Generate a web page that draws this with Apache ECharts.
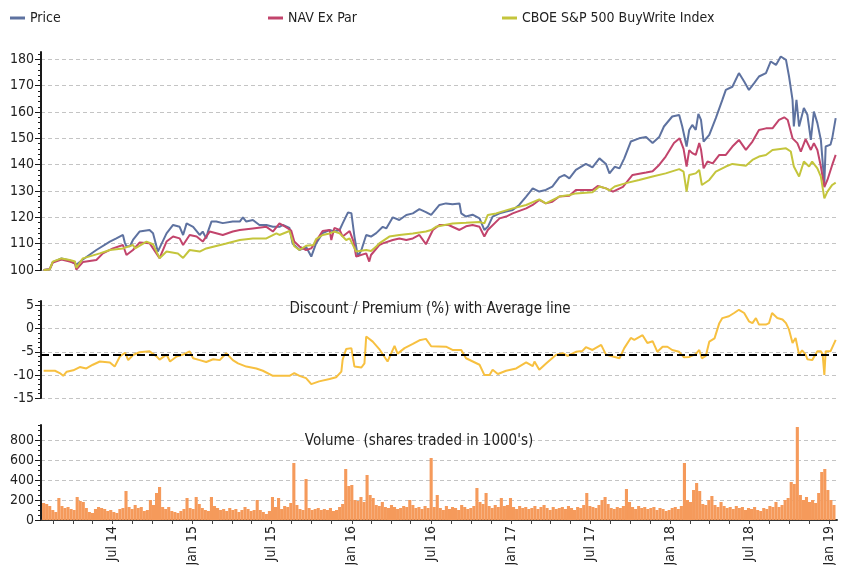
<!DOCTYPE html>
<html>
<head>
<meta charset="utf-8">
<title>Price, NAV and BuyWrite Index</title>
<script src="https://cdn.jsdelivr.net/npm/echarts@6/dist/echarts.min.js"></script>
<style>
  html, body { margin: 0; padding: 0; background: #ffffff; }
  #chart { width: 848px; height: 565px; }
</style>
</head>
<body>
<div id="chart"></div>
<script>
// ---------------------------------------------------------------------------
// Data
// ---------------------------------------------------------------------------

// Growth of 100, fund market price
const priceSeries = [
  ['2014-01-24',100.0],['2014-02-07',100.3],['2014-02-14',103.0],['2014-03-06',104.4],['2014-03-25',103.6],
  ['2014-04-09',102.0],['2014-04-24',104.0],['2014-05-25',107.6],['2014-06-25',110.8],['2014-07-10',112.0],
  ['2014-07-25',113.3],['2014-07-29',110.5],['2014-08-02',109.0],['2014-08-10',109.0],['2014-08-17',111.4],
  ['2014-09-01',114.6],['2014-09-24',115.2],['2014-10-02',114.0],['2014-10-13',107.0],['2014-10-17',106.3],
  ['2014-11-02',113.9],['2014-11-17',117.1],['2014-12-02',116.4],['2014-12-10',113.3],['2014-12-18',117.7],
  ['2015-01-02',116.4],['2015-01-17',113.3],['2015-01-24',114.6],['2015-02-01',112.0],['2015-02-05',114.6],
  ['2015-02-13',118.4],['2015-02-24',118.4],['2015-03-11',117.8],['2015-04-03',118.4],['2015-04-19',118.4],
  ['2015-04-26',120.0],['2015-05-04',118.4],['2015-05-19',119.0],['2015-06-03',117.1],['2015-06-19',117.1],
  ['2015-07-04',116.4],['2015-07-19',116.4],['2015-07-27',117.1],['2015-08-11',116.0],['2015-08-18',110.1],
  ['2015-09-03',107.6],['2015-09-18',108.8],['2015-09-30',105.1],['2015-10-11',110.1],['2015-10-26',114.0],
  ['2015-11-11',115.2],['2015-11-22',114.6],['2015-12-04',115.2],['2015-12-11',117.7],['2015-12-23',121.8],
  ['2015-12-31',121.6],['2016-01-07',112.7],['2016-01-15',105.1],['2016-01-23',107.6],['2016-02-03',113.3],
  ['2016-02-14',112.7],['2016-02-26',114.0],['2016-03-12',116.4],['2016-03-20',115.8],['2016-04-04',120.0],
  ['2016-04-19',119.0],['2016-05-05',120.9],['2016-05-20',121.5],['2016-06-04',123.1],['2016-06-19',122.0],
  ['2016-07-01',120.9],['2016-07-20',124.7],['2016-08-04',125.3],['2016-08-19',125.0],['2016-09-04',125.3],
  ['2016-09-08',121.5],['2016-09-19',120.3],['2016-10-04',121.0],['2016-10-20',119.6],['2016-10-31',115.2],
  ['2016-11-08',116.4],['2016-11-19',120.3],['2016-12-05',121.5],['2016-12-20',122.2],['2017-01-04',122.8],
  ['2017-01-19',124.7],['2017-02-04',127.9],['2017-02-19',131.0],['2017-03-06',129.8],['2017-03-21',130.4],
  ['2017-04-05',131.7],['2017-04-21',135.2],['2017-05-03',136.1],['2017-05-14',134.8],['2017-05-29',138.0],
  ['2017-06-21',140.3],['2017-07-06',139.0],['2017-07-22',142.4],['2017-08-06',140.3],['2017-08-14',136.7],
  ['2017-08-26',139.2],['2017-09-06',138.6],['2017-09-17',142.4],['2017-10-02',148.8],['2017-10-21',150.0],
  ['2017-11-06',150.5],['2017-11-21',148.2],['2017-12-06',150.5],['2017-12-17',154.5],['2018-01-05',158.3],
  ['2018-01-21',158.9],['2018-01-28',154.5],['2018-02-07',146.9],['2018-02-13',153.2],['2018-02-20',155.1],
  ['2018-02-28',153.2],['2018-03-06',159.3],['2018-03-12',157.0],['2018-03-18',148.8],['2018-03-31',151.3],
  ['2018-04-15',157.7],['2018-04-30',164.6],['2018-05-08',168.4],['2018-05-23',169.6],['2018-06-07',174.8],
  ['2018-06-19',171.6],['2018-06-30',168.4],['2018-07-12',171.0],['2018-07-23',173.5],['2018-08-08',174.8],
  ['2018-08-19',179.2],['2018-08-31',177.9],['2018-09-11',181.1],['2018-09-23',179.8],['2018-09-30',173.5],
  ['2018-10-08',164.6],['2018-10-11',154.5],['2018-10-17',164.6],['2018-10-23',154.5],['2018-11-03',161.5],
  ['2018-11-11',159.0],['2018-11-19',149.4],['2018-11-26',160.2],['2018-12-04',155.8],['2018-12-12',149.4],
  ['2018-12-20',133.0],['2018-12-23',146.9],['2019-01-03',147.6],['2019-01-07',150.0],['2019-01-15',157.7]
];

// Growth of 100, net asset value ex par
const navSeries = [
  ['2014-01-24',100.0],['2014-02-07',100.3],['2014-02-14',102.8],['2014-03-06',104.0],['2014-03-25',103.2],
  ['2014-04-06',102.5],['2014-04-09',100.2],['2014-04-24',103.0],['2014-05-25',103.8],['2014-06-09',106.3],
  ['2014-07-02',108.2],['2014-07-25',109.5],['2014-08-02',105.7],['2014-08-17',107.6],['2014-09-01',110.4],
  ['2014-09-24',110.2],['2014-10-17',104.5],['2014-11-02',110.8],['2014-11-17',112.7],['2014-12-02',112.0],
  ['2014-12-10',109.5],['2014-12-25',113.3],['2015-01-10',112.7],['2015-01-24',110.8],['2015-02-09',114.6],
  ['2015-03-11',113.3],['2015-04-03',114.6],['2015-04-19',115.2],['2015-05-19',115.8],['2015-06-19',116.4],
  ['2015-07-04',114.6],['2015-07-19',117.7],['2015-08-02',116.4],['2015-08-15',115.0],['2015-08-22',110.8],
  ['2015-09-03',108.9],['2015-09-18',107.6],['2015-09-30',108.2],['2015-10-11',111.0],['2015-10-26',114.8],
  ['2015-11-11',115.2],['2015-11-15',111.4],['2015-11-22',116.0],['2015-12-04',115.2],['2015-12-11',112.7],
  ['2015-12-27',114.8],['2016-01-05',110.8],['2016-01-11',105.1],['2016-02-03',106.3],['2016-02-10',103.2],
  ['2016-02-14',105.7],['2016-03-04',109.5],['2016-03-12',110.1],['2016-04-04',111.4],['2016-04-19',112.0],
  ['2016-05-05',111.4],['2016-05-20',112.0],['2016-06-04',113.3],['2016-06-19',109.8],['2016-07-05',115.2],
  ['2016-07-20',117.1],['2016-08-10',117.1],['2016-09-04',115.2],['2016-09-19',116.6],['2016-10-04',117.1],
  ['2016-10-20',116.4],['2016-10-31',112.7],['2016-11-08',115.2],['2016-12-05',119.6],['2016-12-20',120.3],
  ['2017-01-04',121.5],['2017-02-04',123.4],['2017-02-19',124.7],['2017-03-06',126.6],['2017-03-21',125.3],
  ['2017-04-05',125.9],['2017-04-21',127.9],['2017-05-14',128.2],['2017-05-29',130.4],['2017-07-06',130.4],
  ['2017-07-18',131.9],['2017-08-06',131.0],['2017-08-22',129.8],['2017-09-14',131.6],['2017-10-06',136.1],
  ['2017-11-06',137.0],['2017-11-21',137.5],['2017-12-06',139.9],['2017-12-21',143.1],['2018-01-09',148.2],
  ['2018-01-22',150.0],['2018-01-31',146.0],['2018-02-07',139.3],['2018-02-13',145.5],['2018-02-20',144.4],
  ['2018-02-28',143.7],['2018-03-08',148.2],['2018-03-12',145.8],['2018-03-18',138.6],['2018-03-27',141.2],
  ['2018-04-08',140.5],['2018-04-23',143.7],['2018-05-08',143.7],['2018-05-23',146.9],['2018-06-07',149.4],
  ['2018-06-23',145.6],['2018-07-08',148.8],['2018-07-23',153.2],['2018-08-08',153.8],['2018-08-23',153.8],
  ['2018-09-07',157.0],['2018-09-19',158.0],['2018-09-27',157.0],['2018-10-08',150.0],['2018-10-19',148.2],
  ['2018-10-27',145.0],['2018-11-07',149.7],['2018-11-19',145.6],['2018-11-26',148.2],['2018-12-04',145.6],
  ['2018-12-12',139.3],['2018-12-20',131.5],['2018-12-27',134.2],['2019-01-07',139.9],['2019-01-15',143.7]
];

// Growth of 100, CBOE S&P 500 BuyWrite Index
const bxmSeries = [
  ['2014-01-24',100.0],['2014-02-07',100.2],['2014-02-14',103.2],['2014-03-06',104.4],['2014-03-25',103.8],
  ['2014-04-06',103.2],['2014-04-09',100.8],['2014-04-24',104.4],['2014-06-02',106.3],['2014-06-25',107.6],
  ['2014-07-25',108.2],['2014-08-17',109.5],['2014-08-22',108.2],['2014-09-17',110.8],['2014-10-02',109.8],
  ['2014-10-17',104.5],['2014-11-02',107.0],['2014-11-28',106.3],['2014-12-10',104.6],['2014-12-25',107.6],
  ['2015-01-17',107.0],['2015-02-01',108.2],['2015-03-19',110.1],['2015-04-19',111.4],['2015-05-19',112.0],
  ['2015-06-19',112.0],['2015-07-12',113.9],['2015-07-19',113.3],['2015-08-11',114.8],['2015-08-22',109.0],
  ['2015-09-03',107.6],['2015-09-18',109.2],['2015-10-05',109.5],['2015-10-11',111.7],['2015-10-26',113.3],
  ['2015-11-11',113.9],['2015-11-22',114.6],['2015-12-04',113.9],['2015-12-19',111.4],['2015-12-27',112.0],
  ['2016-01-11',107.0],['2016-02-03',107.6],['2016-02-14',107.2],['2016-02-26',108.9],['2016-03-04',110.1],
  ['2016-03-27',112.7],['2016-04-19',113.3],['2016-05-20',113.9],['2016-06-19',114.6],['2016-07-01',115.2],
  ['2016-07-12',116.4],['2016-08-19',117.7],['2016-09-19',117.9],['2016-10-20',118.2],['2016-10-31',117.7],
  ['2016-11-08',120.9],['2016-11-27',121.5],['2017-01-04',123.4],['2017-02-04',124.7],['2017-03-06',126.8],
  ['2017-03-21',125.3],['2017-04-21',127.9],['2017-05-14',128.5],['2017-05-29',129.1],['2017-07-06',129.5],
  ['2017-07-22',131.7],['2017-08-06',131.0],['2017-08-14',130.2],['2017-08-26',131.7],['2017-09-21',133.0],
  ['2017-10-21',134.2],['2017-11-21',135.5],['2017-12-21',136.7],['2018-01-21',138.3],['2018-01-31',137.4],
  ['2018-02-07',129.8],['2018-02-13',136.1],['2018-02-28',136.7],['2018-03-08',138.0],['2018-03-14',132.3],
  ['2018-03-31',134.2],['2018-04-15',137.4],['2018-05-08',139.3],['2018-05-23',140.3],['2018-06-23',139.6],
  ['2018-07-08',141.8],['2018-07-23',143.1],['2018-08-08',143.7],['2018-08-23',145.6],['2018-09-23',146.2],
  ['2018-10-04',145.0],['2018-10-11',139.3],['2018-10-23',135.5],['2018-11-03',141.2],['2018-11-15',139.3],
  ['2018-11-22',141.2],['2018-12-04',138.6],['2018-12-12',135.5],['2018-12-20',127.2],['2018-12-27',129.8],
  ['2019-01-07',132.3],['2019-01-15',133.2]
];

// Discount / premium of price to NAV, percent
const discountSeries = [
  ['2014-01-24',-9.1],['2014-02-19',-9.1],['2014-03-02',-9.6],['2014-03-10',-10.2],['2014-03-18',-9.3],
  ['2014-04-02',-9.0],['2014-04-17',-8.3],['2014-05-02',-8.6],['2014-05-17',-7.8],['2014-06-02',-7.1],
  ['2014-06-25',-7.3],['2014-07-06',-8.2],['2014-07-18',-6.0],['2014-07-30',-5.2],['2014-08-06',-6.8],
  ['2014-08-17',-5.7],['2014-09-01',-5.1],['2014-09-24',-4.9],['2014-10-10',-6.0],['2014-10-17',-6.7],
  ['2014-11-02',-5.6],['2014-11-10',-7.1],['2014-11-25',-6.0],['2014-12-10',-5.6],['2014-12-25',-4.9],
  ['2015-01-02',-6.4],['2015-01-17',-6.8],['2015-02-01',-7.2],['2015-02-17',-6.6],['2015-03-04',-6.8],
  ['2015-03-19',-5.3],['2015-04-03',-6.8],['2015-04-15',-7.5],['2015-05-04',-8.2],['2015-05-27',-8.6],
  ['2015-06-11',-9.1],['2015-07-04',-10.2],['2015-07-27',-10.2],['2015-08-11',-10.2],['2015-08-22',-9.6],
  ['2015-09-03',-10.2],['2015-09-18',-10.7],['2015-09-30',-12.0],['2015-10-18',-11.4],['2015-11-11',-10.9],
  ['2015-11-26',-10.5],['2015-12-08',-9.3],['2015-12-11',-6.7],['2015-12-19',-4.4],['2015-12-31',-4.2],
  ['2016-01-07',-8.2],['2016-01-23',-8.4],['2016-01-30',-7.5],['2016-02-03',-1.7],['2016-02-18',-2.8],
  ['2016-03-04',-4.4],['2016-03-23',-7.1],['2016-04-08',-3.7],['2016-04-15',-5.4],['2016-05-01',-4.2],
  ['2016-05-20',-3.3],['2016-06-04',-2.5],['2016-06-19',-2.2],['2016-07-01',-3.8],['2016-08-04',-3.9],
  ['2016-08-19',-4.6],['2016-09-08',-4.6],['2016-09-19',-6.4],['2016-10-20',-7.8],['2016-10-31',-10.0],
  ['2016-11-12',-10.0],['2016-11-19',-8.9],['2016-12-01',-9.8],['2016-12-20',-9.1],['2017-01-12',-8.6],
  ['2017-02-04',-7.3],['2017-02-19',-8.1],['2017-02-23',-7.1],['2017-03-06',-8.9],['2017-03-21',-7.6],
  ['2017-04-13',-5.7],['2017-04-29',-5.3],['2017-05-10',-5.9],['2017-05-29',-5.0],['2017-06-13',-4.8],
  ['2017-06-21',-4.0],['2017-07-06',-4.6],['2017-07-26',-3.5],['2017-08-06',-5.6],['2017-08-22',-6.0],
  ['2017-09-06',-6.4],['2017-09-17',-4.2],['2017-10-02',-2.0],['2017-10-10',-2.4],['2017-10-29',-1.4],
  ['2017-11-09',-3.1],['2017-11-21',-2.7],['2017-12-02',-5.0],['2017-12-14',-3.9],['2017-12-25',-3.9],
  ['2018-01-05',-4.6],['2018-01-21',-5.0],['2018-02-01',-6.2],['2018-02-13',-6.1],['2018-02-28',-5.5],
  ['2018-03-08',-4.6],['2018-03-14',-6.4],['2018-03-23',-5.9],['2018-03-31',-2.8],['2018-04-12',-2.1],
  ['2018-04-23',1.2],['2018-04-30',2.3],['2018-05-15',2.7],['2018-05-27',3.4],['2018-06-07',4.1],
  ['2018-06-19',3.4],['2018-06-30',1.6],['2018-07-08',1.2],['2018-07-16',2.3],['2018-07-23',0.9],
  ['2018-08-08',0.9],['2018-08-15',1.2],['2018-08-22',3.4],['2018-09-03',2.3],['2018-09-15',2.0],
  ['2018-09-23',1.2],['2018-09-30',-0.2],['2018-10-08',-3.1],['2018-10-15',-2.0],['2018-10-23',-5.6],
  ['2018-10-30',-4.7],['2018-11-07',-5.6],['2018-11-11',-6.6],['2018-11-22',-6.8],['2018-12-04',-4.9],
  ['2018-12-12',-4.9],['2018-12-16',-5.5],['2018-12-20',-10.0],['2018-12-23',-4.9],['2019-01-03',-4.9],
  ['2019-01-15',-2.4]
];

// Average discount over the period, percent
const averageDiscount = -5.65;

// Weekly traded volume in thousands of shares, first week ending on volumeStart
const volumeStart = '2014-01-24';
const volumeValues = [
  170,160,140,100, 80,220,140,120,130,110,
  100,230,190,180,120, 80, 70,110,130,120,
  110, 90,100, 80, 70,110,120,290,130,110,
  150,120,130, 90,100,200,150,270,330,130,
  110,130, 90, 80, 70, 90,110,220,120,110,
  230,160,120,100, 90,230,140,120,100,110,
   90,120,100,110, 80,100,130,110, 90,100,
  200,100, 80, 60, 90,230,130,220,110,140,
  130,170,570,150,110,100,410,120,100,110,
  120,100,110,100,120, 90,100,130,160,510,
  340,350,200,190,230,180,450,250,220,150,
  140,180,130,120,150,130,110,120,140,130,
  200,150,120,130,110,140,120,620,130,250,
  120,100,140,110,130,120,100,150,130,110,
  120,140,320,180,160,270,140,120,150,130,
  220,140,150,220,130,110,140,120,130,110,
  120,140,110,130,150,120,100,130,110,120,
  130,110,140,120,100,130,120,150,270,140,
  130,120,150,200,230,160,120,110,130,120,
  140,310,180,130,110,140,120,130,110,120,
  130,100,120,110, 90,100,120,130,110,140,
  570,200,180,300,370,290,160,150,200,240,
  150,130,180,140,120,130,110,140,120,130,
  100,120,110,130,100, 90,120,110,140,130,
  180,130,150,200,220,380,360,930,250,200,
  230,180,200,170,270,480,510,300,200,150
];

// Axis ticks and labels
const priceTicks = [100, 110, 120, 130, 140, 150, 160, 170, 180];
const discountTicks = [-15, -10, -5, 0, 5];
const volumeTicks = [0, 200, 400, 600, 800];
const dateLabels = ['2014-07-01','2015-01-01','2015-07-01','2016-01-01','2016-07-01',
                    '2017-01-01','2017-07-01','2018-01-01','2018-07-01','2019-01-01'];
const dateTicks = ['2014-02-15','2014-04-01','2014-05-15','2014-07-01','2014-08-15','2014-10-01','2014-11-15',
                   '2015-01-01','2015-02-15','2015-04-01','2015-05-15','2015-07-01','2015-08-15','2015-10-01','2015-11-15',
                   '2016-01-01','2016-02-15','2016-04-01','2016-05-15','2016-07-01','2016-08-15','2016-10-01','2016-11-15',
                   '2017-01-01','2017-02-15','2017-04-01','2017-05-15','2017-07-01','2017-08-15','2017-10-01','2017-11-15',
                   '2018-01-01','2018-02-15','2018-04-01','2018-05-15','2018-07-01','2018-08-15','2018-10-01','2018-11-15',
                   '2019-01-01'];
const monthNames = ['Jan','Feb','Mar','Apr','May','Jun','Jul','Aug','Sep','Oct','Nov','Dec'];

// ---------------------------------------------------------------------------
// Helpers
// ---------------------------------------------------------------------------
function ts(s) {
  const p = s.split('-').map(Number);
  return new Date(p[0], p[1] - 1, p[2]).getTime();
}
function toPoints(rows) {
  return rows.map(r => [ts(r[0]), r[1]]);
}
function minorBetween(min, max, step, majors) {
  const out = [];
  for (let v = min; v <= max + 1e-9; v += step) {
    const r = Math.round(v * 1000) / 1000;
    if (majors.indexOf(r) < 0) out.push(r);
  }
  return out;
}

const DAY = 86400000;
const volumeSeries = volumeValues.map((v, i) => [ts(volumeStart) + i * 7 * DAY, v]);

// ---------------------------------------------------------------------------
// Styling
// ---------------------------------------------------------------------------
const FONT = '"Liberation Sans Narrow","DejaVu Sans Condensed","Arial Narrow",sans-serif';
const TEXT = '#222222';
const AXIS = '#1a1a1a';
const GRID_LINE = { show: true, lineStyle: { color: '#c4c4c4', type: [4, 3], width: 1 } };

const X_MIN = ts('2014-01-18');
const X_MAX = ts('2019-01-18');

const grids = [
  { left: 41, right: 11, top: 52,  height: 218, outerBoundsMode: 'none' },
  { left: 41, right: 11, top: 301, height: 97,  outerBoundsMode: 'none' },
  { left: 41, right: 11, top: 425, height: 95,  outerBoundsMode: 'none' }
];

const Y_RANGE = [
  { min: 100, max: 182.8 },
  { min: -15, max: 6 },
  { min: 0,   max: 950 }
];

function hiddenX(gridIndex) {
  return { type: 'value', gridIndex, min: X_MIN, max: X_MAX, show: false, splitLine: { show: false } };
}

function mainY(gridIndex, ticks, interval) {
  return {
    type: 'value', gridIndex, position: 'left',
    min: Y_RANGE[gridIndex].min, max: Y_RANGE[gridIndex].max, interval,
    axisLine: { show: true, onZero: false, lineStyle: { color: AXIS, width: 2 } },
    axisTick: { show: true, length: 6, customValues: ticks, lineStyle: { color: AXIS, width: 1 } },
    axisLabel: { show: true, customValues: ticks, margin: 7,
                 color: TEXT, fontFamily: FONT, fontSize: 14 },
    splitLine: GRID_LINE
  };
}
function minorY(gridIndex, minors) {
  return {
    type: 'value', gridIndex, position: 'left', offset: 0,
    min: Y_RANGE[gridIndex].min, max: Y_RANGE[gridIndex].max,
    axisLine: { show: false },
    axisTick: { show: true, length: 3, customValues: minors, lineStyle: { color: AXIS, width: 1 } },
    axisLabel: { show: false },
    splitLine: { show: false }
  };
}

const legendBase = {
  top: 11, padding: 0, itemWidth: 15, itemHeight: 3, icon: 'rect', itemGap: 0,
  textStyle: { color: TEXT, fontFamily: FONT, fontSize: 14 },
  selectedMode: false
};

const COLORS = {
  price: '#5e72a0',
  nav: '#c2446c',
  bxm: '#c4c53c',
  discount: '#f7c040',
  volume: '#f59a5b'
};

const option = {
  animation: false,
  backgroundColor: '#ffffff',
  textStyle: { fontFamily: FONT },
  grid: grids,
  legend: [
    Object.assign({}, legendBase, { left: 10,  data: ['Price'] }),
    Object.assign({}, legendBase, { left: 268, data: ['NAV Ex Par'] }),
    Object.assign({}, legendBase, { left: 502, data: ['CBOE S&P 500 BuyWrite Index'] })
  ],
  graphic: [
    { type: 'text', z: 100,
      style: { text: 'Discount / Premium (%) with Average line', x: 430, y: 309,
               textAlign: 'center', textVerticalAlign: 'middle',
               fill: TEXT, font: '15px ' + FONT } },
    { type: 'text', z: 100,
      style: { text: "Volume  (shares traded in 1000's)", x: 419, y: 441,
               textAlign: 'center', textVerticalAlign: 'middle',
               fill: TEXT, font: '15px ' + FONT } }
  ],
  xAxis: [
    hiddenX(0),
    hiddenX(1),
    {
      type: 'value', gridIndex: 2, min: X_MIN, max: X_MAX,
      axisLine: { show: true, onZero: false, lineStyle: { color: '#333333', width: 2 } },
      axisTick: { show: true, length: 4, customValues: dateTicks.map(ts), lineStyle: { color: '#444444', width: 1 } },
      axisLabel: {
        show: true, rotate: 90, margin: 6, customValues: dateLabels.map(ts),
        color: TEXT, fontFamily: FONT, fontSize: 14,
        formatter: function (v) {
          const d = new Date(v);
          return monthNames[d.getMonth()] + ' ' + String(d.getFullYear()).slice(2);
        }
      },
      splitLine: { show: false }
    }
  ],
  yAxis: [
    mainY(0, priceTicks, 10),
    mainY(1, discountTicks, 5),
    mainY(2, volumeTicks, 200),
    minorY(0, minorBetween(100, 182, 2, priceTicks)),
    minorY(1, minorBetween(-15, 6, 1, discountTicks)),
    minorY(2, minorBetween(0, 950, 50, volumeTicks))
  ],
  series: [
    { name: 'Price', type: 'line', xAxisIndex: 0, yAxisIndex: 0, data: toPoints(priceSeries),
      showSymbol: false, clip: false, color: COLORS.price, lineStyle: { width: 2, color: COLORS.price } },
    { name: 'NAV Ex Par', type: 'line', xAxisIndex: 0, yAxisIndex: 0, data: toPoints(navSeries),
      showSymbol: false, clip: false, color: COLORS.nav, lineStyle: { width: 2, color: COLORS.nav } },
    { name: 'CBOE S&P 500 BuyWrite Index', type: 'line', xAxisIndex: 0, yAxisIndex: 0, data: toPoints(bxmSeries),
      showSymbol: false, clip: false, color: COLORS.bxm, lineStyle: { width: 2, color: COLORS.bxm } },
    { name: 'Discount / Premium', type: 'line', xAxisIndex: 1, yAxisIndex: 1, data: toPoints(discountSeries),
      showSymbol: false, color: COLORS.discount, lineStyle: { width: 2, color: COLORS.discount },
      markLine: {
        silent: true, symbol: 'none', animation: false,
        label: { show: false },
        lineStyle: { color: '#000000', type: [8, 4], width: 2 },
        data: [{ yAxis: averageDiscount }]
      }
    },
    { name: 'Volume', type: 'bar', xAxisIndex: 2, yAxisIndex: 2, data: volumeSeries,
      barWidth: 3.1, color: COLORS.volume, itemStyle: { color: COLORS.volume } }
  ]
};

const chart = echarts.init(document.getElementById('chart'), null, { renderer: 'canvas' });
chart.setOption(option);
</script>
</body>
</html>
